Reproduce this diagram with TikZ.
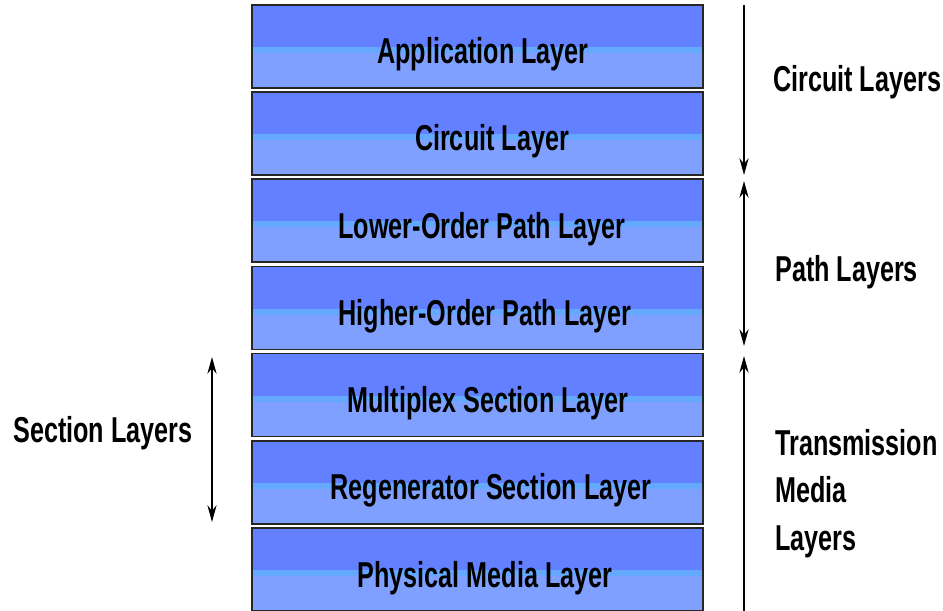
\documentclass[tikz,border=0pt]{standalone}
\usepackage{fontspec}
\setmainfont{Liberation Sans}
\usepackage{xcolor}
\usetikzlibrary{arrows.meta,positioning,calc}

\definecolor{laydark}{RGB}{98,128,255}
\definecolor{layband}{RGB}{100,168,255}
\definecolor{laylite}{RGB}{128,160,255}

\begin{document}
\begin{tikzpicture}[
    x=0.25mm, y=-0.25mm,
    layer/.style={rectangle, draw=black!85, line width=0.45mm, fill=laylite,
                  minimum width=112.75mm, minimum height=20.75mm, inner sep=0pt,
                  path picture={
                    \fill[laydark] (path picture bounding box.north west)
                      rectangle ([yshift=-10.6mm]path picture bounding box.north east);
                    \fill[layband] ([yshift=-10.6mm]path picture bounding box.north west)
                      rectangle ([yshift=-12mm]path picture bounding box.north east);
                  }},
    lbl/.style={anchor=base, inner sep=0pt, xscale=0.7,
                font=\fontsize{25.6}{33.7}\selectfont\bfseries},
    side/.style={anchor=base west, inner sep=0pt, xscale=0.7, align=left,
                 font=\fontsize{25.6}{33.7}\selectfont\bfseries},
    arr/.style={line width=0.33mm,
                >={Stealth[length=4.2mm, width=2.3mm, inset=1.4mm]}},
  ]

  \useasboundingbox (0,0) rectangle (943,611);

  % === Layer stack ===
  \node[layer] (app)  at (477.5, 46.5)  {};
  \node[layer] (circ) at (477.5, 133.5) {};
  \node[layer] (lop)  at (477.5, 220.5) {};
  \node[layer] (hop)  at (477.5, 308)   {};
  \node[layer] (msec) at (477.5, 395)   {};
  \node[layer] (rsec) at (477.5, 482.5) {};
  \node[layer] (phys) at (477.5, 569.5) {};

  % Layer names
  \node[lbl] (appt)  at (483, 64)  {Application Layer};
  \node[lbl] (circt) at (492, 151) {Circuit Layer};
  \node[lbl] (lopt)  at (482, 238) {Lower-Order Path Layer};
  \node[lbl] (hopt)  at (485, 325) {Higher-Order Path Layer};
  \node[lbl] (msect) at (488, 412) {Multiplex Section Layer};
  \node[lbl] (rsect) at (491, 499) {Regenerator Section Layer};
  \node[lbl] (physt) at (485, 587) {Physical Media Layer};

  % === Right side groups ===
  \coordinate (ctop)  at (744, 5);
  \coordinate (cbot)  at (744, 175);
  \coordinate (ptop)  at (744, 181);
  \coordinate (pbot)  at (744, 346);
  \coordinate (ttop)  at (744, 356);
  \coordinate (tbot)  at (744, 611);

  \draw[arr, ->]  (ctop) -- (cbot);
  \draw[arr, <->] (ptop) -- (pbot);
  \draw[arr, <-]  (ttop) -- (tbot);

  \node[side] (cirl) at (773, 92)  {Circuit Layers};
  \node[side] (pathl) at (775, 281) {Path Layers};
  \node[side] (tml) at (775, 550) {Transmission\\Media\\Layers};

  % === Left side group ===
  \coordinate (stop) at (212, 357);
  \coordinate (sbot) at (212, 522);
  \draw[arr, <->] (stop) -- (sbot);

  \node[side] (secl) at (13, 442) {Section Layers};

\end{tikzpicture}
\end{document}
